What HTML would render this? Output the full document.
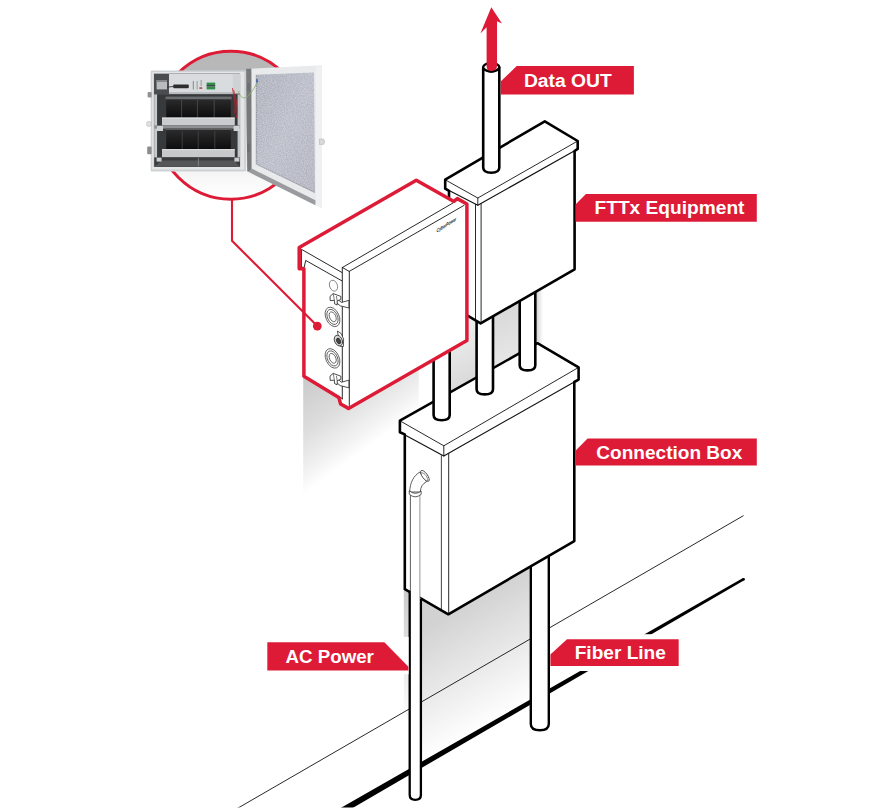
<!DOCTYPE html>
<html lang="en">
<head>
<meta charset="utf-8">
<title>FTTx Installation Diagram</title>
<style>
  html, body { margin: 0; padding: 0; background: #ffffff; }
  body { width: 892px; height: 810px; overflow: hidden; font-family: "Liberation Sans", sans-serif; }
  svg { display: block; }
  .tk { fill: none; stroke: #000; stroke-width: 2.6; stroke-linejoin: round; stroke-linecap: round; }
  .tn { fill: none; stroke: #111; stroke-width: 0.9; stroke-linejoin: round; stroke-linecap: round; }
  .wf { fill: #fff; stroke: none; }
  .pipe { fill: #fff; stroke: #000; stroke-width: 2.4; stroke-linejoin: round; }
  .red { fill: #de1b36; }
  .lbl { font-family: "Liberation Sans", sans-serif; font-weight: bold; fill: #fff; }
</style>
</head>
<body>
<svg width="892" height="810" viewBox="0 0 892 810">
<defs>
  <clipPath id="clipBottom"><rect x="0" y="0" width="892" height="807.6"/></clipPath>
  <linearGradient id="gCircle" x1="0" y1="0" x2="0" y2="1">
    <stop offset="0" stop-color="#b7b7b7"/>
    <stop offset="0.35" stop-color="#bababa"/>
    <stop offset="0.8" stop-color="#f4f4f4"/>
    <stop offset="1" stop-color="#ffffff"/>
  </linearGradient>
  <linearGradient id="gShadowA" gradientUnits="userSpaceOnUse" x1="303" y1="377" x2="359" y2="454">
    <stop offset="0" stop-color="#c9c9c9"/>
    <stop offset="0.5" stop-color="#dedede"/>
    <stop offset="0.85" stop-color="#f4f4f4"/>
    <stop offset="1" stop-color="#ffffff"/>
  </linearGradient>
  <linearGradient id="gShadowB" gradientUnits="userSpaceOnUse" x1="447.8" y1="613.9" x2="505.7" y2="715.5">
    <stop offset="0" stop-color="#d2d2d2"/>
    <stop offset="0.5" stop-color="#e8e8e8"/>
    <stop offset="1" stop-color="#ffffff"/>
  </linearGradient>
  <linearGradient id="gShadowC" gradientUnits="userSpaceOnUse" x1="0" y1="590" x2="0" y2="720">
    <stop offset="0" stop-color="#cacaca"/>
    <stop offset="1" stop-color="#ffffff"/>
  </linearGradient>
  <linearGradient id="gShadowD" gradientUnits="userSpaceOnUse" x1="450" y1="330" x2="480" y2="400">
    <stop offset="0" stop-color="#eeeeee"/>
    <stop offset="1" stop-color="#d2d2d2"/>
  </linearGradient>
  <linearGradient id="gShadowE" gradientUnits="userSpaceOnUse" x1="493" y1="300" x2="520" y2="380">
    <stop offset="0" stop-color="#d6d6d6"/>
    <stop offset="1" stop-color="#ececec"/>
  </linearGradient>
  <linearGradient id="gShadowF" gradientUnits="userSpaceOnUse" x1="536" y1="0" x2="543" y2="0">
    <stop offset="0" stop-color="#d0d0d0"/>
    <stop offset="1" stop-color="#ffffff"/>
  </linearGradient>
</defs>

<rect x="0" y="0" width="892" height="810" fill="#ffffff"/>

<!-- ================= SHADOWS ================= -->
<g id="shadows">
  <!-- under the UPS enclosure -->
  <polygon points="303.2,372 348,405 418.8,364 418.8,520 303.2,520" fill="url(#gShadowA)"/>
  <!-- between the three conduits -->
  <polygon points="449,345 468,336 468,316 477,321 477,378 449,394" fill="url(#gShadowD)"/>
  <polygon points="492.6,317 519.4,301 519.4,352 492.6,368" fill="url(#gShadowE)"/>
  <polygon points="535.7,292 543,288 543,346 535.7,342" fill="url(#gShadowF)"/>
  <!-- under connection box -->
  <polygon points="420.9,598 448.3,614.3 529.6,567 529.6,705 420.9,767" fill="url(#gShadowB)"/>
  <rect x="403.8" y="589" width="6" height="135" fill="url(#gShadowC)"/>
</g>

<!-- ================= GROUND LINES ================= -->
<g id="ground">
  <line x1="236" y1="809.2" x2="743.2" y2="515.8" stroke="#111" stroke-width="0.9" stroke-linecap="round" clip-path="url(#clipBottom)"/>
  <polygon points="337.5,816.8 744.2,580.3 743.0,578.1 334.5,811.5" fill="#000" clip-path="url(#clipBottom)"/>
  <circle cx="743.6" cy="579.2" r="1.3" fill="#000"/>
</g>

<!-- ================= LOWER CONDUITS ================= -->
<g id="lowerpipes">
  <!-- fiber line conduit -->
  <path class="pipe" d="M530.8,540 V724 Q530.8,730.2 539.8,730.2 Q548.8,730.2 548.8,724 V540 Z"/>
</g>

<!-- ================= CONNECTION BOX ================= -->
<g id="connbox">
  <!-- body -->
  <polygon class="wf" points="404.6,430 447,455 574.3,381 574.3,541.1 448.3,614.3 404.6,589.2"/>
  <!-- lid -->
  <polygon class="wf" points="399.9,420.6 537.4,343.2 578.6,367.4 578.6,379.6 443.8,456 399.9,432.2"/>
  <!-- thin edges -->
  <polyline class="tn" points="399.9,420.8 443.8,445.8 578.6,367.4"/>
  <line class="tn" x1="443.8" y1="445.8" x2="443.8" y2="456"/>
  <polyline class="tn" style="stroke-width:1.1" points="399.9,432.2 443.8,456 578.6,379.6"/>
  <line class="tn" style="stroke:#555;stroke-width:1.1" x1="441.4" y1="455" x2="441.4" y2="610"/>
  <line class="tn" x1="448.7" y1="453.5" x2="448.7" y2="613.6"/>
  <!-- thick outline -->
  <polyline class="tk" points="399.9,432.2 399.9,420.6 537.4,343.2 578.6,367.4 578.6,379.6 574.3,382 574.3,541.1 448.3,614.3 404.8,589.2 404.8,434.4 399.9,432.2"/>
</g>

<!-- thin AC conduit running up the side of connection box -->
<g id="acthin">
  <path d="M410.7,592 V494.5 H420 V602 Z" fill="#fff" stroke="none"/>
  <path d="M409.7,590.4 V795 Q409.7,799.8 415.3,799.8 Q420.9,799.8 420.9,795 V598.6 Z" fill="#fff" stroke="none"/>
  <path class="tn" style="stroke:#333;stroke-width:0.8" d="M410.4,590 V495"/>
  <path class="tn" style="stroke:#888;stroke-width:0.9" d="M419.9,598 V495"/>
  <path d="M409.7,590.4 V795 Q409.7,799.8 415.3,799.8 Q420.9,799.8 420.9,795 V598.6" fill="none" stroke="#000" stroke-width="2.3" stroke-linecap="butt"/>
  <path d="M409.7,492 C410,482.4 413.6,475.8 419.9,472 L426.5,481.7 C422.6,483.6 420.5,487 420.3,492 Z" fill="#fff" stroke="#333" stroke-width="0.8" stroke-linejoin="round"/>
  <ellipse cx="424.9" cy="475.9" rx="2.6" ry="6.5" transform="rotate(-36 424.9 475.9)" fill="#fff" stroke="#333" stroke-width="0.8"/>
  <path d="M419.9,473.4 C422.6,471.6 426,474.4 427.3,478.2 C427.8,479.8 427.6,480.8 427.2,481.2" fill="none" stroke="#555" stroke-width="0.7"/>
  <path d="M409.2,490.8 Q415,495.6 421.2,491.2 L421.1,494.4 Q415,499.4 409.3,494.2 Z" fill="#fff" stroke="#333" stroke-width="0.8" stroke-linejoin="round"/>
</g>

<!-- ================= MIDDLE CONDUITS ================= -->
<g id="midpipes">
  <path class="pipe" style="stroke-width:2.6" d="M433.6,340 V415.0 Q433.6,420.2 441.65,420.2 Q449.7,420.2 449.7,415.0 V340 Z"/>
  <path class="pipe" style="stroke-width:2.6" d="M476.6,310 V389.2 Q476.6,394.4 484.80,394.4 Q493.0,394.4 493.0,389.2 V310 Z"/>
  <path class="pipe" style="stroke-width:2.6" d="M519.7,290 V365.2 Q519.7,370.4 527.50,370.4 Q535.3,370.4 535.3,365.2 V290 Z"/>
</g>

<!-- ================= FTTx BOX ================= -->
<g id="fttx">
  <polygon class="wf" points="449,186 477.8,203 574.6,150 574.6,269.3 480.6,323.4 449,304.7"/>
  <polygon class="wf" points="445.2,179.6 544.8,121.3 577.7,141 577.7,148.9 477.8,205.3 445.2,188.6"/>
  <polyline class="tn" points="445.2,179.8 477.8,198 577.7,141"/>
  <line class="tn" x1="477.8" y1="198" x2="477.8" y2="205.3"/>
  <polyline class="tn" style="stroke-width:1.1" points="445.2,188.6 477.8,205.3 577.7,148.9"/>
  <line class="tn" x1="475.5" y1="204.3" x2="475.5" y2="320.4"/>
  <line class="tn" x1="481.1" y1="203.6" x2="481.1" y2="322.8"/>
  <polyline class="tk" points="449,300 449,190.8 445.2,188.6 445.2,179.6 544.8,121.3 577.7,141 577.7,148.9 574.6,151 574.6,269.3 480.6,323.4 449,304.7"/>
</g>

<!-- Data OUT conduit + arrow -->
<g id="dataout">
  <path class="pipe" style="stroke-width:2.6" d="M483.2,67.5 V167.6 Q483.2,172.8 491.25,172.8 Q499.3,172.8 499.3,167.6 V67.5 Z"/>
  <ellipse cx="491.25" cy="67.3" rx="8.05" ry="4.3" fill="#fff" stroke="#000" stroke-width="2.3"/>
  <path class="red" d="M491.3,7.2 L502,23.4 L497,21.2 V66 Q497,71.5 491.6,71.5 Q486.6,71.5 486.6,66 V27.3 L480.4,33.6 Z"/>
  <path d="M483.8,68.6 Q491.3,75.4 498.7,68.6" fill="none" stroke="#000" stroke-width="1.6"/>
</g>

<!-- ================= UPS ENCLOSURE (red outline) ================= -->
<g id="ups">
  <!-- white silhouette -->
  <polygon class="wf" points="299.2,247.6 416.3,180.2 453.9,201.4 457.3,198.6 466.9,204 466.9,340.4 348.5,408.4 340.6,404 338.8,397.4 303.9,376.3 303.9,268.8 299.2,268.8"/>
  <!-- top face -->
  <line class="tn" x1="301.6" y1="249.4" x2="341.8" y2="272.4"/>
  <polyline class="tn" points="342.4,267.5 452.8,203.1"/>
  <polyline class="tn" points="342.4,267.5 349.2,271.4 464,205.4"/>
  <!-- side face lid underside -->
  <polyline class="tn" points="301.4,250 301.4,267.2 304.2,267.4 305.7,260.4 341.8,280.8"/>
  <!-- door edge verticals -->
  <line class="tn" x1="342.3" y1="267.5" x2="342.3" y2="399"/>
  <line class="tn" x1="349.3" y1="271.5" x2="349.3" y2="405.5"/>
  <!-- side bottom -->
  <line class="tn" x1="304" y1="375.8" x2="342.2" y2="398.5"/>
  <!-- small round plug -->
  <ellipse cx="333.5" cy="285.7" rx="3.9" ry="5.6" transform="rotate(-20 333.5 285.7)" fill="#fff" stroke="#666" stroke-width="0.7"/>
  <!-- upper latch -->
  <g id="latch1" fill="#fff" stroke="#222" stroke-width="0.8" stroke-linejoin="round">
    <path d="M336.6,298.4 L341.4,302.4 L348.9,300.4 L348.9,308 L340.2,305.8 L336.6,302.8 Z"/>
    <path d="M330,296.4 L333.2,293.6 L340.8,296.4 L340.8,299.6 L337.2,300.8 L337.2,305 L334.6,303.8 L334.4,300.4 L330.2,300.6 Z"/>
    <path d="M333.2,293.6 L334.4,300.4 M337.2,300.8 L336.4,296" fill="none" stroke-width="0.6"/>
  </g>
  <use href="#latch1" transform="translate(0,79.8)"/>
  <!-- cable glands -->
  <g fill="#fff" stroke="#444" stroke-width="0.75" transform="rotate(-25 332.5 316.9)">
    <ellipse cx="332.5" cy="316.9" rx="6.6" ry="10.3"/>
    <ellipse cx="332.5" cy="316.9" rx="5" ry="8"/>
    <ellipse cx="332.7" cy="316.9" rx="3.1" ry="5.2"/>
  </g>
  <g fill="#fff" stroke="#444" stroke-width="0.75" transform="rotate(-25 332.5 358.4)">
    <ellipse cx="332.5" cy="358.4" rx="6.6" ry="10.3"/>
    <ellipse cx="332.5" cy="358.4" rx="5" ry="8"/>
    <ellipse cx="332.7" cy="358.4" rx="3.1" ry="5.2"/>
  </g>
  <!-- key lock -->
  <g stroke="#222" stroke-width="0.75" stroke-linejoin="round">
    <path d="M337.4,331 L341,333.4 L343.6,339 L343.4,346.6 L340,346.2 Z" fill="#fff"/>
    <ellipse cx="338.4" cy="340.6" rx="3.8" ry="5.6" transform="rotate(-25 338.4 340.6)" fill="#d8d8d8"/>
    <ellipse cx="338.6" cy="341" rx="1.9" ry="3" transform="rotate(-25 338.6 341)" fill="#444"/>
  </g>
  <!-- logo on the door -->
  <text transform="translate(436.8,232.6) rotate(-31.6) skewX(-28)" font-family="'Liberation Sans', sans-serif" font-weight="bold" font-style="italic" font-size="4.6" fill="#111" textLength="23" lengthAdjust="spacingAndGlyphs">CyberPower</text>
  <!-- red outline -->
  <polygon points="299.2,247.6 416.3,180.2 453.9,201.4 457.3,198.6 466.9,204 466.9,340.4 348.5,408.4 340.6,404 338.8,397.4 303.9,376.3 303.9,268.8 299.2,268.8" fill="none" stroke="#de1b36" stroke-width="3.5" stroke-linejoin="round"/>
</g>

<!-- ================= CALLOUT CIRCLE WITH PHOTO ================= -->
<g id="callout">
  <polyline points="232,198 232,240.8 317.3,326.1" fill="none" stroke="#de1b36" stroke-width="2.1" stroke-linejoin="miter"/>
  <circle cx="317.3" cy="326.1" r="4.4" class="red"/>
  <circle cx="230.8" cy="125.2" r="74" fill="url(#gCircle)" stroke="#de1b36" stroke-width="3"/>
</g>

<!-- PHOTO -->
<g id="photo">
  <defs>
    <filter id="noise" x="0" y="0" width="100%" height="100%">
      <feTurbulence type="fractalNoise" baseFrequency="0.9" numOctaves="2" seed="3" result="n"/>
      <feColorMatrix type="matrix" values="0 0 0 0 1  0 0 0 0 1  0 0 0 0 1  0.55 0 0 0 -0.18" in="n" result="w"/>
      <feComposite in="w" in2="SourceGraphic" operator="in" result="wc"/>
      <feMerge><feMergeNode in="SourceGraphic"/><feMergeNode in="wc"/></feMerge>
    </filter>
    <linearGradient id="gDoorPanel" x1="0" y1="0" x2="1" y2="1">
      <stop offset="0" stop-color="#a9adb9"/>
      <stop offset="0.5" stop-color="#b9bcc8"/>
      <stop offset="1" stop-color="#aeb1bd"/>
    </linearGradient>
    <linearGradient id="gBatt" x1="0" y1="0" x2="0" y2="1">
      <stop offset="0" stop-color="#2a2a2b"/>
      <stop offset="1" stop-color="#0d0d0e"/>
    </linearGradient>
  </defs>
  <!-- cabinet shell -->
  <rect x="150.7" y="70.6" width="95.3" height="100.8" rx="1.2" fill="#ced1d3"/>
  <rect x="152.2" y="72" width="92" height="97.5" fill="#e3e5e6"/>
  <rect x="153.9" y="73.6" width="86.2" height="93.2" fill="#5a5c5e"/>
  <!-- left compartment -->
  <rect x="154.2" y="74" width="14.6" height="20.5" fill="#4a4c4e"/>
  <rect x="156.6" y="80" width="10.4" height="9.4" fill="#b9bcbf"/>
  <rect x="156.6" y="80" width="10.4" height="2" fill="#85888b"/>
  <!-- UPS module front -->
  <rect x="169" y="74" width="71" height="19.6" fill="#cfd2d4"/>
  <rect x="169" y="74" width="63.8" height="19.6" fill="#d9dcde"/>
  <rect x="169" y="92.2" width="63.8" height="1.6" fill="#b5b8ba"/>
  <rect x="173.2" y="84.6" width="15.6" height="3.6" rx="1" fill="#2c2d2e"/>
  <line x1="167" y1="87.2" x2="174" y2="86.4" stroke="#333" stroke-width="0.9"/>
  <rect x="206.6" y="82.6" width="8.6" height="2.6" fill="#2f8f4a"/>
  <rect x="206.6" y="86.6" width="8.6" height="2.8" fill="#2f8f4a"/>
  <rect x="206.6" y="85.2" width="8.6" height="1.2" fill="#222"/>
  <rect x="199.4" y="87.4" width="2.8" height="1.3" fill="#a22"/>
  <rect x="192.8" y="81" width="1" height="8.5" fill="#888"/>
  <rect x="196.6" y="81" width="1" height="8.5" fill="#999"/>
  <rect x="200.6" y="80" width="1" height="6" fill="#999"/>
  <!-- left / right rack rails -->
  <rect x="154.2" y="94.5" width="3" height="72" fill="#c7cacc"/>
  <rect x="237.4" y="94.5" width="2.7" height="72" fill="#c2c5c7"/>
  <rect x="157.2" y="94.5" width="80.2" height="72" fill="#38393b"/>
  <!-- upper battery row -->
  <rect x="165.6" y="96.6" width="66" height="3" fill="#6b6d6f"/>
  <rect x="166.2" y="99.4" width="64.6" height="18.2" fill="url(#gBatt)"/>
  <g stroke="#55575a" stroke-width="0.7"><line x1="181.6" y1="100" x2="181.6" y2="117.6"/><line x1="197.4" y1="100" x2="197.4" y2="117.6"/><line x1="214.2" y1="100" x2="214.2" y2="117.6"/></g>
  <rect x="162" y="117.6" width="72.8" height="7.8" fill="#c9cbcd"/>
  <rect x="162" y="117.6" width="72.8" height="1" fill="#e4e6e7"/>
  <!-- mid brace -->
  <rect x="154.2" y="125.4" width="85.8" height="3.2" fill="#8f9294"/>
  <rect x="157" y="126" width="6" height="5" fill="#cfd1d3"/>
  <rect x="233.6" y="126" width="6" height="5" fill="#cfd1d3"/>
  <!-- lower battery row -->
  <rect x="165.6" y="128.4" width="66" height="2.4" fill="#5a5c5e"/>
  <rect x="166.2" y="130" width="64.6" height="19.4" fill="url(#gBatt)"/>
  <g stroke="#4c4e51" stroke-width="0.7"><line x1="182.2" y1="131" x2="182.2" y2="149"/><line x1="198.2" y1="131" x2="198.2" y2="149"/><line x1="214.8" y1="131" x2="214.8" y2="149"/></g>
  <rect x="162" y="149.2" width="72.8" height="8.2" fill="#c7c9cb"/>
  <rect x="162" y="149.2" width="72.8" height="1" fill="#e2e4e5"/>
  <!-- bottom -->
  <rect x="154.2" y="157.4" width="85.8" height="9.4" fill="#3b3c3e"/>
  <polygon points="154.2,166.8 162,160.4 234,160.4 240,166.8" fill="#545658"/>
  <line x1="198.4" y1="158" x2="198.4" y2="166.4" stroke="#8b8d8f" stroke-width="0.8"/>
  <rect x="156.6" y="157.6" width="5" height="4" fill="#c9cbcd"/>
  <rect x="234.4" y="157.6" width="5" height="4" fill="#c9cbcd"/>
  <!-- wires -->
  <path d="M232.4,88 C233.6,96 236.4,104 234.6,113 M233.6,90 C236,99 238,106 236.6,118" fill="none" stroke="#c0272d" stroke-width="0.8"/>
  <!-- left hinges -->
  <rect x="147.6" y="92" width="4" height="5.4" rx="1" fill="#8f9193"/>
  <rect x="146.6" y="121.4" width="4.6" height="5" rx="2" fill="#dfe1e2" stroke="#aaa" stroke-width="0.5"/>
  <rect x="147.2" y="146.6" width="4.4" height="7.6" rx="1" fill="#8a8c8e"/>
  <!-- DOOR -->
  <polygon points="246.9,68.8 321.9,65.3 321.9,208.1 247.8,171.5" fill="#e8eaec"/>
  <polygon points="246.2,68.8 251.4,68.6 251.6,170.8 247.2,171.5" fill="#77797b"/>
  <polygon points="247.8,171.6 252.3,168.8 315.4,200.2 315.4,205.2" fill="#999b9e"/>
  <polygon points="316,66.4 321.9,65.3 321.9,208.1 316,205.2" fill="#eff0f2"/>
  <polygon points="255.7,74.8 314,72.4 315,193.3 255.7,164.6" fill="url(#gDoorPanel)" filter="url(#noise)"/>
  <polyline points="256.6,75.8 256.6,164 314.4,192" fill="none" stroke="#7b7d83" stroke-width="0.6" stroke-dasharray="1.4 1"/>
  <rect x="247.2" y="83" width="2.6" height="8.4" fill="#6c6e70"/>
  <rect x="247.2" y="143.6" width="2.6" height="8.4" fill="#6c6e70"/>
  <path d="M319.4,139 h3.6 q1.6,0.2 1.6,2.6 q0,2.6 -1.6,2.8 h-3.6 z" fill="#d7d9db" stroke="#a9abad" stroke-width="0.5"/>
  <rect x="256.2" y="79.2" width="1.6" height="3.4" fill="#3c5fa8"/>
  <path d="M238.6,91 C240.6,100.8 248,101.6 256.8,83" fill="none" stroke="#86b062" stroke-width="0.8"/>
</g>

<!-- ================= LABELS ================= -->
<g id="labels">
  <polygon class="red" points="500.7,81.4 516.7,66.1 633.9,66.1 633.9,94.4 500.7,94.4"/>
  <text class="lbl" x="523.9" y="87.1" font-size="18.8" textLength="87.8" lengthAdjust="spacingAndGlyphs">Data OUT</text>

  <polygon class="red" points="575.5,204.5 585.9,193.9 756.8,193.9 756.8,221.8 575.5,221.8"/>
  <text class="lbl" x="594.5" y="214.3" font-size="18.2" textLength="150" lengthAdjust="spacingAndGlyphs">FTTx Equipment</text>

  <polygon class="red" points="575.5,450.8 587.6,438.5 756.8,438.5 756.8,465.6 575.5,465.6"/>
  <text class="lbl" x="596.3" y="458.7" font-size="18" textLength="146" lengthAdjust="spacingAndGlyphs">Connection Box</text>

  <rect x="550.8" y="634.2" width="133" height="36.8" fill="#fff"/>
  <polygon class="red" points="550.4,654.5 567,639.2 678.7,639.2 678.7,666.1 550.4,666.1"/>
  <text class="lbl" x="574.7" y="659" font-size="18" textLength="91.2" lengthAdjust="spacingAndGlyphs">Fiber Line</text>

  <rect x="262" y="636.9" width="146.6" height="37.4" fill="#fff"/>
  <polygon class="red" points="267.3,642.2 384.4,642.2 408.4,666.8 408.4,670.6 267.3,670.6"/>
  <text class="lbl" x="285.6" y="662.7" font-size="18.4" textLength="88.3" lengthAdjust="spacingAndGlyphs">AC Power</text>
</g>
</svg>
</body>
</html>
